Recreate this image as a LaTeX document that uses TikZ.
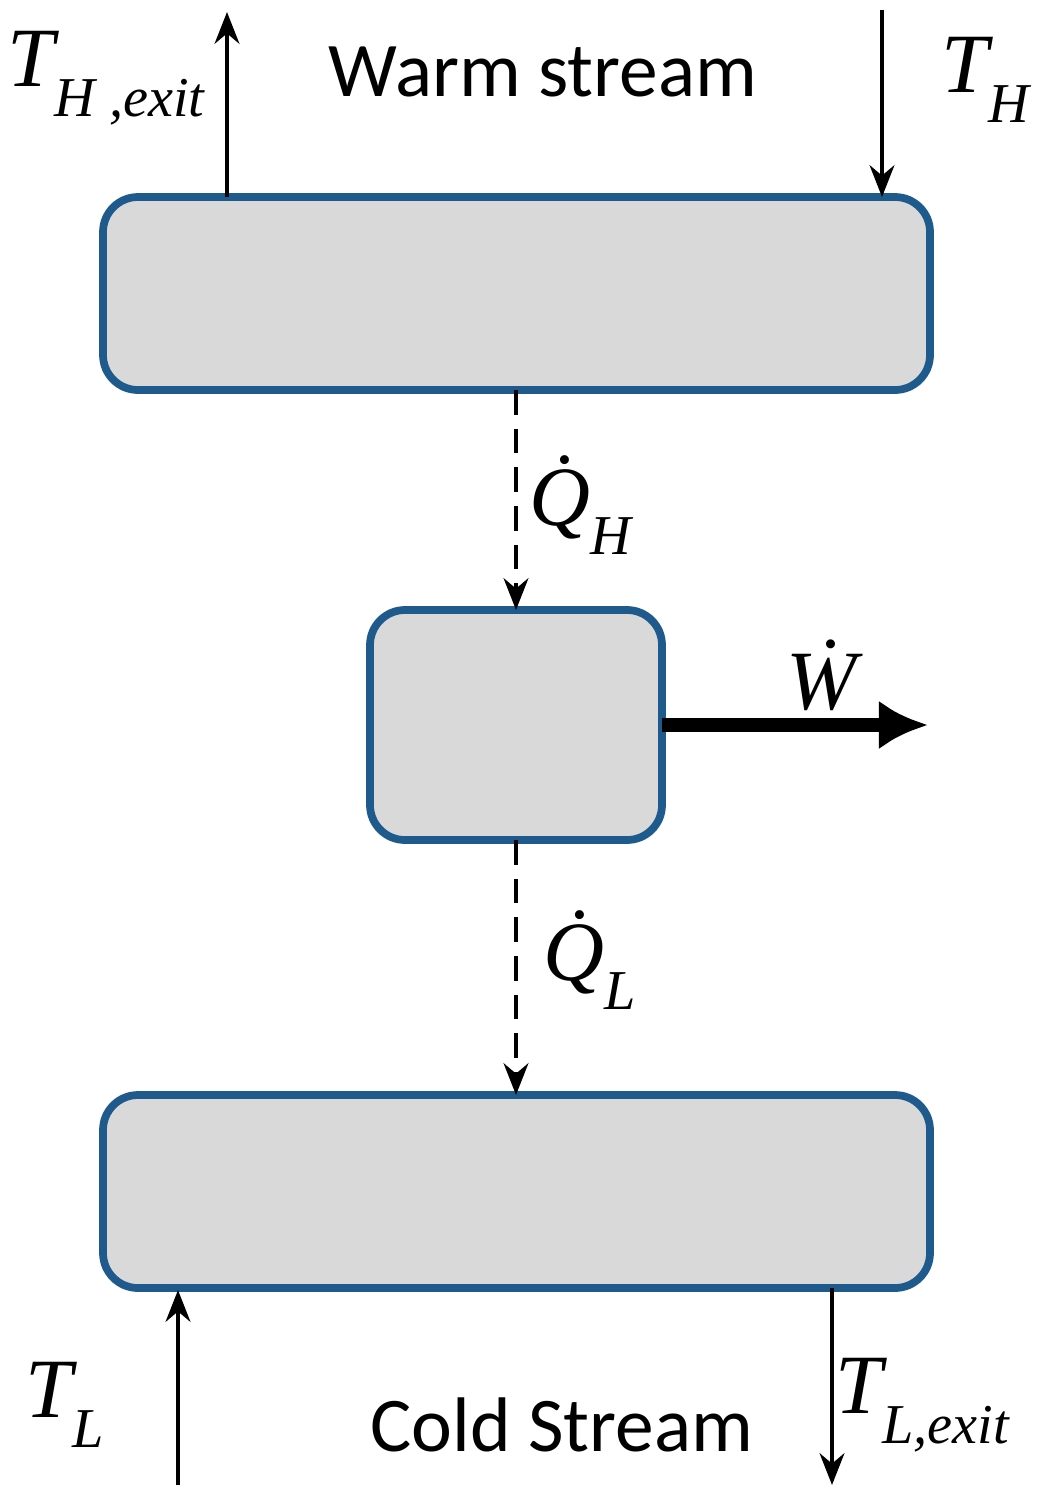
\documentclass[tikz,border=0pt]{standalone}
\usetikzlibrary{arrows.meta}
\usepackage{fontspec}
\setmainfont{Carlito}
\newfontfamily\tms{Liberation Serif}
\definecolor{bord}{RGB}{31,90,140}
\newcommand{\lbl}[2]{{\tms\itshape #1\raisebox{-0.35em}{\fontsize{16}{18}\selectfont #2}}}
\begin{document}
\begin{tikzpicture}[x=0.01cm,y=-0.01cm,
 box/.style={draw=bord, line width=2.2pt, fill=gray!30, rounded corners=0.35cm},
 ar/.style={line width=1.4pt,-{Stealth[length=9pt,width=7pt]}},
 da/.style={ar,dashed,dash pattern=on 7pt off 4pt},
 lab/.style={font=\fontsize{24}{26}\selectfont,inner sep=1pt},
 txt/.style={font=\fontsize{22}{26}\selectfont}]
\useasboundingbox (0,0) rectangle (1046,1512);
\draw[box] (103,197) rectangle (930,390);
\draw[box] (370,610) rectangle (662,840);
\draw[box] (103,1095) rectangle (930,1288);
\coordinate (top) at (516,390); \coordinate (mt) at (516,610);
\coordinate (mb) at (516,840); \coordinate (bt) at (516,1095);
\coordinate (mr) at (662,725); \coordinate (we) at (928,725);
\coordinate (a1) at (227,197); \coordinate (a1e) at (227,12);
\coordinate (a2) at (882,10); \coordinate (a2e) at (882,197);
\coordinate (a3) at (178,1485); \coordinate (a3e) at (178,1290);
\coordinate (a4) at (832,1288); \coordinate (a4e) at (832,1485);
\draw[ar] (a1) -- (a1e);
\draw[ar] (a2) -- (a2e);
\draw[ar] (a3) -- (a3e);
\draw[ar] (a4) -- (a4e);
\draw[da] (top) -- (mt);
\draw[da] (mb) -- (bt);
\draw[line width=4pt,-{Latex[length=14pt,width=14pt]}] (mr) -- (we);
\node[lab] (th1) at (106,78) {\lbl{T}{H ,exit}};
\node[txt] (ws) at (543,72) {Warm stream};
\node[lab] (th) at (985,80) {\lbl{T}{H}};
\node[lab] (qh) at (580,505) {\lbl{\.Q}{H}};
\node[lab] (w) at (822,675) {{\tms\itshape \.W}};
\node[lab] (ql) at (590,960) {\lbl{\.Q}{L}};
\node[lab] (tl) at (65,1405) {\lbl{T}{L}};
\node[txt] (cs) at (562,1425) {Cold Stream};
\node[lab] (tle) at (922,1405) {\lbl{T}{L,exit}};
\end{tikzpicture}
\end{document}
